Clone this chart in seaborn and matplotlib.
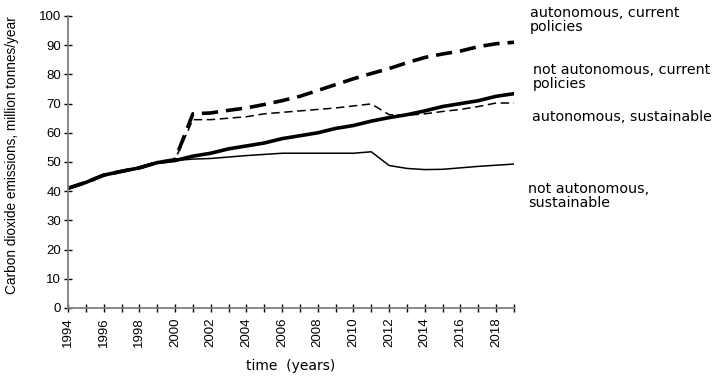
import numpy as np
import pandas as pd
import matplotlib
matplotlib.use("Agg")
import matplotlib.pyplot as plt
import seaborn as sns

# data
years = list(range(1994, 2020))
not_auto_current = [41, 43, 45.5, 46.8, 48, 49.8, 50.5, 52, 53, 54.5, 55.5, 56.5, 58, 59, 60,
                    61.5, 62.5, 64, 65.2, 66.2, 67.5, 69, 70, 71, 72.5, 73.4]
auto_current = [41, 43, 45.5, 46.8, 48, 49.8, 50.8, 66.5, 66.8, 67.7, 68.5, 69.7, 71, 72.5, 74.5,
                76.5, 78.5, 80.3, 82, 84, 85.8, 87, 88, 89.5, 90.5, 91]
auto_sustainable = [41, 43, 45.5, 46.8, 48, 49.8, 50.8, 64.5, 64.5, 65, 65.5, 66.5, 67, 67.5, 68,
                    68.5, 69.2, 69.9, 66.2, 66, 66.5, 67.3, 68, 69, 70.2, 70.2]
not_auto_sustainable = [41, 43, 45.5, 46.8, 48, 49.8, 50.5, 51, 51.2, 51.7, 52.2, 52.6, 53, 53, 53,
                        53, 53, 53.5, 48.8, 47.8, 47.4, 47.5, 48, 48.5, 48.9, 49.3]

labels = ["autonomous, current\npolicies", "not autonomous, current\npolicies",
          "autonomous, sustainable", "not autonomous,\nsustainable"]
label_ypix = [20, 77, 117, 196]
label_xpix = [530, 533, 532, 528]

sns.set_style("ticks")
plt.rcParams["font.family"] = ["Liberation Sans", "DejaVu Sans"]
plt.rcParams["text.color"] = "black"
plt.rcParams["xtick.labelcolor"] = "black"
plt.rcParams["ytick.labelcolor"] = "black"
plt.rcParams["axes.labelcolor"] = "black"

fig = plt.figure(figsize=(7.22, 3.79), dpi=100)
ax = fig.add_axes([68 / 722, 1 - 308 / 379, (514 - 68) / 722, (308 - 16) / 379])

sns.lineplot(x=years, y=not_auto_sustainable, ax=ax, color="black", lw=1.1)
sns.lineplot(x=years, y=auto_sustainable, ax=ax, color="black", lw=1.1)
ax.lines[-1].set_dashes((5.5, 3))
sns.lineplot(x=years, y=not_auto_current, ax=ax, color="black", lw=2.6)
sns.lineplot(x=years, y=auto_current, ax=ax, color="black", lw=2.6)
ax.lines[-1].set_dashes((4.5, 2.2))

ax.set_xlim(1994, 2019)
ax.set_ylim(0, 100)
ax.set_yticks(range(0, 101, 10))
ax.set_xticks(range(1994, 2020))
ax.set_xticklabels([str(y) if (y - 1994) % 2 == 0 else "" for y in years], rotation=90)
ax.tick_params(axis="both", direction="inout", length=6, width=1, color="black",
               labelsize=9.5, pad=2)
ax.tick_params(axis="x", pad=4)
for side in ["top", "right"]:
    ax.spines[side].set_visible(False)
for side in ["left", "bottom"]:
    ax.spines[side].set_color("#808080")
    ax.spines[side].set_linewidth(1.3)

ax.set_ylabel("Carbon dioxide emissions, million tonnes/year", fontsize=9.8)
ax.yaxis.set_label_coords(-49 / 446, 0.524)
fig.text(291 / 722, 1 - 366 / 379, "time  (years)", family="DejaVu Sans", fontsize=10,
         ha="center", va="center")

for lab, lx, ly in zip(labels, label_xpix, label_ypix):
    fig.text(lx / 722, 1 - ly / 379, lab, family="DejaVu Sans", fontsize=10.3,
             ha="left", va="center", linespacing=1.0)

fig.savefig("out.png", dpi=100)
